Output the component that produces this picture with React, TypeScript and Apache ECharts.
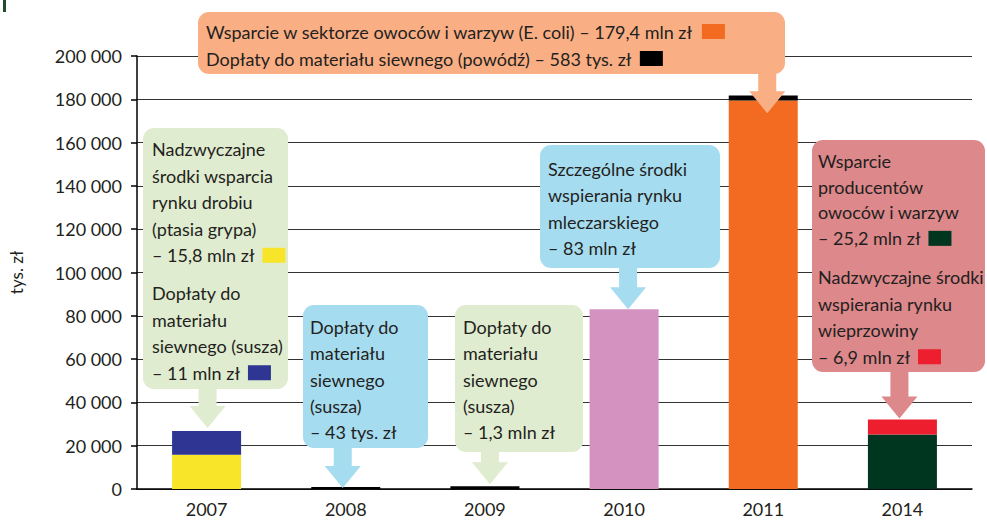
import React, { useEffect, useRef } from 'react';
import * as echarts from 'echarts';

// ---- data ----
const categories = ['2007', '2008', '2009', '2010', '2011', '2014'];
const baseValues = [15800, 43, 1300, 83000, 179400, 25200];
const topValues: (number | null)[] = [11000, null, null, null, 583, 6900];
const baseColors = ['#f8e52a', '#000000', '#000000', '#d392bf', '#f26b21', '#003520'];
const topColors: (string | null)[] = ['#2e3592', null, null, null, '#000000', '#ed1f2e'];
const yMin = 0;
const yMax = 200000;
const yStep = 20000;
const yAxisName = 'tys. zł';

const text2007a = ['Nadzwyczajne', 'środki wsparcia', 'rynku drobiu', '(ptasia grypa)', '– 15,8 mln zł{g| }{yel| }'];
const text2007b = ['Dopłaty do', 'materiału', 'siewnego (susza)', '– 11 mln zł{g| }{blu| }'];
const text2008 = ['Dopłaty do', 'materiału', 'siewnego', '(susza)', '– 43 tys. zł'];
const text2009 = ['Dopłaty do', 'materiału', 'siewnego', '(susza)', '– 1,3 mln zł'];
const text2010 = ['Szczególne środki', 'wspierania rynku', 'mleczarskiego', '– 83 mln zł'];
const text2011 = ['Wsparcie w sektorze owoców i warzyw (E. coli) – 179,4 mln zł{g| }{ora| }', 'Dopłaty do materiału siewnego (powódź) – 583 tys. zł{g| }{blk| }'];
const text2014a = ['Wsparcie', 'producentów', 'owoców i warzyw', '– 25,2 mln zł{g| }{dgr| }'];
const text2014b = ['Nadzwyczajne środki', 'wspierania rynku', 'wieprzowiny', '– 6,9 mln zł{g| }{red| }'];

const FONT = 'Lato, "Open Sans", sans-serif';
const TXT = '#231f20';
const FS = 18;

const fmt = (v: number) => String(v).replace(/\B(?=(\d{3})+(?!\d))/g, ' ');

const sq = (c: string) => ({ width: 23, height: 15, backgroundColor: c, lineHeight: 26.5 });
const rich = {
  g: { width: 8, lineHeight: 26.5 },
  yel: sq('#f8e52a'),
  blu: sq('#2e3592'),
  ora: sq('#f26b21'),
  blk: sq('#000000'),
  dgr: sq('#003520'),
  red: sq('#ed1f2e'),
};

function textEl(lines: string[], x: number, y: number, lh = 26.5) {
  return {
    type: 'text',
    x,
    y,
    z: 101,
    style: {
      text: lines.join('\n'),
      fontSize: FS,
      fontFamily: FONT,
      fill: TXT,
      lineHeight: lh,
      align: 'left',
      verticalAlign: 'top',
      rich,
    },
  };
}

function arrowEl(cx: number, top: number, tipY: number, color: string) {
  const stemW = 18;
  const headW = 36;
  const headH = 22;
  const hy = tipY - headH;
  return {
    type: 'polygon',
    z: 100,
    shape: {
      points: [
        [cx - stemW / 2, top],
        [cx - stemW / 2, hy],
        [cx - headW / 2, hy],
        [cx, tipY],
        [cx + headW / 2, hy],
        [cx + stemW / 2, hy],
        [cx + stemW / 2, top],
      ],
    },
    style: { fill: color },
  };
}

function boxEl(x: number, y: number, w: number, h: number, color: string) {
  return { type: 'rect', z: 100, shape: { x, y, width: w, height: h, r: 11 }, style: { fill: color } };
}

export default function App() {
  const ref = useRef<HTMLDivElement>(null);
  useEffect(() => {
    document.body.style.margin = '0';
    const chart = echarts.init(ref.current!, null, { renderer: 'svg' });
    chart.setOption({
      animation: false,
      grid: { left: 133, right: 15, top: 56, bottom: 31, containLabel: false },
      xAxis: {
        type: 'category',
        data: categories,
        axisLine: { lineStyle: { color: '#000', width: 1.5 } },
        axisTick: { length: 7, lineStyle: { color: '#000', width: 1.5 } },
        axisLabel: { fontSize: FS, color: TXT, fontFamily: FONT, margin: 11 },
      },
      yAxis: {
        type: 'value',
        min: yMin,
        max: yMax,
        interval: yStep,
        name: yAxisName,
        nameLocation: 'middle',
        nameGap: 112,
        nameRotate: 90,
        nameTextStyle: { fontSize: 17, color: TXT, fontFamily: FONT },
        axisLine: { show: true, lineStyle: { color: '#000', width: 1.5 } },
        axisTick: { show: true, length: 6, lineStyle: { color: '#000', width: 1.5 } },
        splitLine: { lineStyle: { color: '#333', width: 1.2 } },
        axisLabel: { fontSize: FS, color: TXT, fontFamily: FONT, margin: 15, formatter: (v: number) => fmt(v) },
      },
      series: [
        {
          type: 'bar',
          stack: 'a',
          barWidth: 69,
          barMinHeight: 2,
          data: baseValues.map((v, i) => ({ value: v, itemStyle: { color: baseColors[i] } })),
        },
        {
          type: 'bar',
          stack: 'a',
          barWidth: 69,
          barMinHeight: 5,
          data: topValues.map((v, i) => (v == null ? '-' : { value: v, itemStyle: { color: topColors[i] as string } })),
        },
      ],
    });

    const total = (i: number) => baseValues[i] + (topValues[i] ?? 0);
    const tip = (i: number, gap: number, dx: number) => {
      const p = chart.convertToPixel({ gridIndex: 0 }, [i, total(i)]) as number[];
      return [p[0] + dx, p[1] - gap];
    };

    const GREEN = '#e0ecd0';
    const BLUE = '#a6dcf0';
    const PINK = '#dd888b';
    const SALMON = '#faae84';

    const els: any[] = [];
    // small mark top-left
    els.push({ type: 'rect', z: 100, shape: { x: 3, y: 0, width: 3, height: 12 }, style: { fill: '#1f4d2e' } });

    // 2007
    let t = tip(0, 3, 1);
    els.push(boxEl(143, 128, 145, 261, GREEN), arrowEl(t[0], 388, t[1], GREEN));
    els.push(textEl(text2007a, 152, 136), textEl(text2007b, 152, 280));
    // 2008
    t = tip(1, 1, -3);
    els.push(boxEl(303, 305, 125, 143, BLUE), arrowEl(t[0], 447, t[1], BLUE));
    els.push(textEl(text2008, 310, 314, 26.2));
    // 2009
    t = tip(2, 2, 5);
    els.push(boxEl(455, 305, 128, 147, GREEN), arrowEl(t[0], 451, t[1], GREEN));
    els.push(textEl(text2009, 463, 314, 26.2));
    // 2010
    t = tip(3, 0, 4);
    els.push(boxEl(540, 145, 180, 123, BLUE), arrowEl(t[0], 267, t[1], BLUE));
    els.push(textEl(text2010, 548, 156, 26.3));
    // 2011
    t = tip(4, -14, 4);
    els.push(boxEl(198, 12, 587, 62, SALMON), arrowEl(t[0], 73, t[1], SALMON));
    els.push(textEl(text2011, 206, 18, 27));
    // 2014
    t = tip(5, 1, -3);
    els.push(boxEl(812, 140, 173, 232, PINK), arrowEl(t[0], 371, t[1], PINK));
    els.push(textEl(text2014a, 818, 148, 25.7), textEl(text2014b, 818, 264, 26.5));

    chart.setOption({ graphic: { elements: els } });
    return () => chart.dispose();
  }, []);
  return <div ref={ref} style={{ width: 987, height: 520 }} />;
}
